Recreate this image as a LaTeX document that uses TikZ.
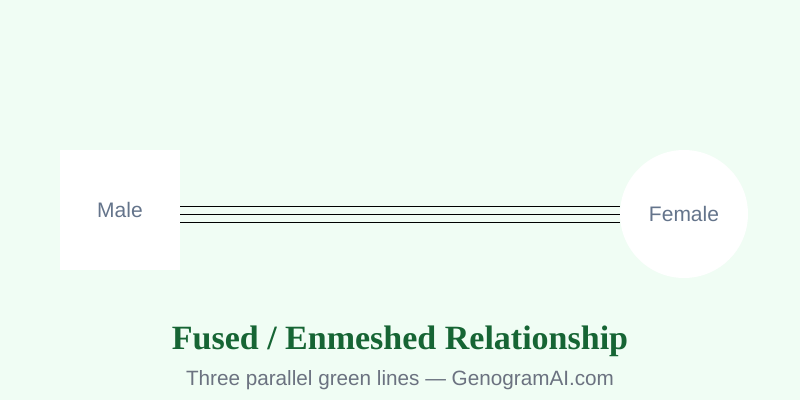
\documentclass[tikz,border=0pt]{standalone}
\usepackage{fontspec}
\setmainfont{Liberation Sans}
\newfontfamily\titlefont{Liberation Serif}
\usetikzlibrary{calc}
\definecolor{bgmint}{HTML}{F0FDF4}
\definecolor{labelgray}{HTML}{64748B}
\definecolor{titlegreen}{HTML}{166534}
\definecolor{subgray}{HTML}{6B7280}

\begin{document}
\begin{tikzpicture}[x=1pt,y=-1pt,
    person/.style={fill=white, inner sep=0pt, text=labelgray,
                   font=\fontsize{21}{25}\selectfont},
    male/.style={person, rectangle, minimum size=120pt},
    female/.style={person, circle, minimum size=128pt},
    fused/.style={line width=1pt, black}]
  % background and frame
  \fill[bgmint] (0,0) rectangle (800,400);
  \useasboundingbox (0,0) rectangle (800,400);

  \node[male]   (m) at (120,210) {Male};
  \node[female] (f) at (684,214) {Female};

  % three parallel lines
  \foreach \o in {-8,0,8}
    \draw[fused] ($(m.east|-f.center)+(0,\o)$) -- ($(f.west)+(0,\o)$);

  \node[anchor=base, text=titlegreen, font=\titlefont\bfseries\fontsize{34}{38}\selectfont]
    (title) at (400,349) {Fused / Enmeshed Relationship};
  \node[anchor=base, text=subgray, font=\fontsize{20.7}{24}\selectfont]
    (sub) at (400,385) {Three parallel green lines — GenogramAI.com};
\end{tikzpicture}
\end{document}
